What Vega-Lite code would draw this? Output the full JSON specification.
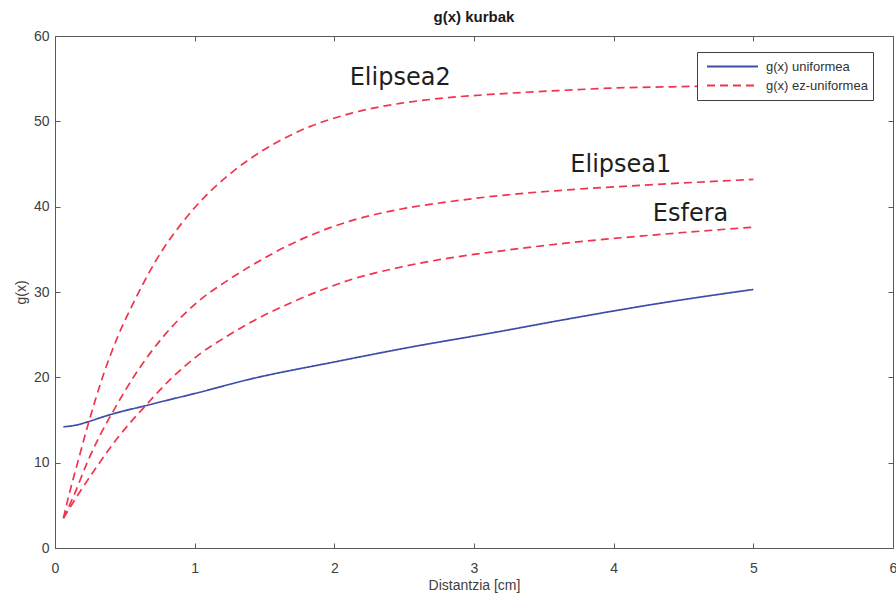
{
  "$schema": "https://vega.github.io/schema/vega-lite/v6.json",
  "width": 838,
  "height": 512,
  "autosize": {"type": "none"},
  "padding": {"left": 55, "top": 36, "right": 3, "bottom": 51},
  "background": "white",
  "config": {"view": {"stroke": null}, "font": "Liberation Sans"},
  "title": {"text": "g(x) kurbak", "fontSize": 15, "fontWeight": "bold", "font": "Liberation Sans", "color": "#1a1a1a", "offset": 4, "anchor": "middle"},
  "datasets": {
    "curves": [
      {"serie": "uni", "mota": "g(x) uniformea", "x": 0.06, "y": 14.2},
      {"serie": "uni", "mota": "g(x) uniformea", "x": 0.15, "y": 14.4},
      {"serie": "uni", "mota": "g(x) uniformea", "x": 0.238, "y": 14.8},
      {"serie": "uni", "mota": "g(x) uniformea", "x": 0.35, "y": 15.4},
      {"serie": "uni", "mota": "g(x) uniformea", "x": 0.477, "y": 16.0},
      {"serie": "uni", "mota": "g(x) uniformea", "x": 0.63, "y": 16.6},
      {"serie": "uni", "mota": "g(x) uniformea", "x": 0.775, "y": 17.2},
      {"serie": "uni", "mota": "g(x) uniformea", "x": 1.0, "y": 18.1},
      {"serie": "uni", "mota": "g(x) uniformea", "x": 1.4, "y": 19.8},
      {"serie": "uni", "mota": "g(x) uniformea", "x": 2.0, "y": 21.8},
      {"serie": "uni", "mota": "g(x) uniformea", "x": 2.5, "y": 23.4},
      {"serie": "uni", "mota": "g(x) uniformea", "x": 3.16, "y": 25.3},
      {"serie": "uni", "mota": "g(x) uniformea", "x": 3.66, "y": 26.8},
      {"serie": "uni", "mota": "g(x) uniformea", "x": 4.3, "y": 28.6},
      {"serie": "uni", "mota": "g(x) uniformea", "x": 5.0, "y": 30.3},

      {"serie": "Elipsea2", "mota": "g(x) ez-uniformea", "x": 0.06, "y": 3.5},
      {"serie": "Elipsea2", "mota": "g(x) ez-uniformea", "x": 0.1, "y": 6.2},
      {"serie": "Elipsea2", "mota": "g(x) ez-uniformea", "x": 0.167, "y": 10.3},
      {"serie": "Elipsea2", "mota": "g(x) ez-uniformea", "x": 0.227, "y": 13.9},
      {"serie": "Elipsea2", "mota": "g(x) ez-uniformea", "x": 0.286, "y": 17.2},
      {"serie": "Elipsea2", "mota": "g(x) ez-uniformea", "x": 0.334, "y": 19.7},
      {"serie": "Elipsea2", "mota": "g(x) ez-uniformea", "x": 0.45, "y": 24.8},
      {"serie": "Elipsea2", "mota": "g(x) ez-uniformea", "x": 0.57, "y": 29.0},
      {"serie": "Elipsea2", "mota": "g(x) ez-uniformea", "x": 0.716, "y": 33.5},
      {"serie": "Elipsea2", "mota": "g(x) ez-uniformea", "x": 0.954, "y": 39.0},
      {"serie": "Elipsea2", "mota": "g(x) ez-uniformea", "x": 1.265, "y": 44.0},
      {"serie": "Elipsea2", "mota": "g(x) ez-uniformea", "x": 1.396, "y": 45.6},
      {"serie": "Elipsea2", "mota": "g(x) ez-uniformea", "x": 1.754, "y": 48.9},
      {"serie": "Elipsea2", "mota": "g(x) ez-uniformea", "x": 2.11, "y": 50.9},
      {"serie": "Elipsea2", "mota": "g(x) ez-uniformea", "x": 2.47, "y": 52.1},
      {"serie": "Elipsea2", "mota": "g(x) ez-uniformea", "x": 2.83, "y": 52.8},
      {"serie": "Elipsea2", "mota": "g(x) ez-uniformea", "x": 3.16, "y": 53.2},
      {"serie": "Elipsea2", "mota": "g(x) ez-uniformea", "x": 3.6, "y": 53.6},
      {"serie": "Elipsea2", "mota": "g(x) ez-uniformea", "x": 4.0, "y": 53.9},
      {"serie": "Elipsea2", "mota": "g(x) ez-uniformea", "x": 4.57, "y": 54.1},
      {"serie": "Elipsea2", "mota": "g(x) ez-uniformea", "x": 5.0, "y": 54.3},

      {"serie": "Elipsea1", "mota": "g(x) ez-uniformea", "x": 0.06, "y": 3.5},
      {"serie": "Elipsea1", "mota": "g(x) ez-uniformea", "x": 0.131, "y": 6.0},
      {"serie": "Elipsea1", "mota": "g(x) ez-uniformea", "x": 0.238, "y": 10.3},
      {"serie": "Elipsea1", "mota": "g(x) ez-uniformea", "x": 0.31, "y": 12.8},
      {"serie": "Elipsea1", "mota": "g(x) ez-uniformea", "x": 0.44, "y": 16.7},
      {"serie": "Elipsea1", "mota": "g(x) ez-uniformea", "x": 0.573, "y": 20.3},
      {"serie": "Elipsea1", "mota": "g(x) ez-uniformea", "x": 0.787, "y": 25.0},
      {"serie": "Elipsea1", "mota": "g(x) ez-uniformea", "x": 1.026, "y": 28.9},
      {"serie": "Elipsea1", "mota": "g(x) ez-uniformea", "x": 1.24, "y": 31.4},
      {"serie": "Elipsea1", "mota": "g(x) ez-uniformea", "x": 1.396, "y": 33.0},
      {"serie": "Elipsea1", "mota": "g(x) ez-uniformea", "x": 1.754, "y": 36.1},
      {"serie": "Elipsea1", "mota": "g(x) ez-uniformea", "x": 2.11, "y": 38.3},
      {"serie": "Elipsea1", "mota": "g(x) ez-uniformea", "x": 2.47, "y": 39.7},
      {"serie": "Elipsea1", "mota": "g(x) ez-uniformea", "x": 2.83, "y": 40.6},
      {"serie": "Elipsea1", "mota": "g(x) ez-uniformea", "x": 3.185, "y": 41.3},
      {"serie": "Elipsea1", "mota": "g(x) ez-uniformea", "x": 3.7, "y": 42.0},
      {"serie": "Elipsea1", "mota": "g(x) ez-uniformea", "x": 4.3, "y": 42.6},
      {"serie": "Elipsea1", "mota": "g(x) ez-uniformea", "x": 5.0, "y": 43.2},

      {"serie": "Esfera", "mota": "g(x) ez-uniformea", "x": 0.06, "y": 3.5},
      {"serie": "Esfera", "mota": "g(x) ez-uniformea", "x": 0.167, "y": 6.3},
      {"serie": "Esfera", "mota": "g(x) ez-uniformea", "x": 0.298, "y": 9.5},
      {"serie": "Esfera", "mota": "g(x) ez-uniformea", "x": 0.453, "y": 13.0},
      {"serie": "Esfera", "mota": "g(x) ez-uniformea", "x": 0.644, "y": 16.6},
      {"serie": "Esfera", "mota": "g(x) ez-uniformea", "x": 0.835, "y": 19.9},
      {"serie": "Esfera", "mota": "g(x) ez-uniformea", "x": 1.026, "y": 22.6},
      {"serie": "Esfera", "mota": "g(x) ez-uniformea", "x": 1.24, "y": 24.9},
      {"serie": "Esfera", "mota": "g(x) ez-uniformea", "x": 1.396, "y": 26.4},
      {"serie": "Esfera", "mota": "g(x) ez-uniformea", "x": 1.754, "y": 29.2},
      {"serie": "Esfera", "mota": "g(x) ez-uniformea", "x": 2.11, "y": 31.4},
      {"serie": "Esfera", "mota": "g(x) ez-uniformea", "x": 2.47, "y": 32.9},
      {"serie": "Esfera", "mota": "g(x) ez-uniformea", "x": 2.83, "y": 34.0},
      {"serie": "Esfera", "mota": "g(x) ez-uniformea", "x": 3.185, "y": 34.8},
      {"serie": "Esfera", "mota": "g(x) ez-uniformea", "x": 3.7, "y": 35.8},
      {"serie": "Esfera", "mota": "g(x) ez-uniformea", "x": 4.3, "y": 36.7},
      {"serie": "Esfera", "mota": "g(x) ez-uniformea", "x": 5.0, "y": 37.6}
    ],
    "labels": [
      {"t": "Elipsea2", "x": 2.11, "y": 55.1},
      {"t": "Elipsea1", "x": 3.69, "y": 44.9},
      {"t": "Esfera", "x": 4.28, "y": 39.1}
    ]
  },
  "layer": [
    {
      "data": {"name": "curves"},
      "mark": {"type": "line", "strokeWidth": 1.7, "clip": true, "interpolate": "monotone"},
      "encoding": {
        "x": {
          "field": "x", "type": "quantitative",
          "scale": {"domain": [0, 6], "nice": false, "zero": false},
          "axis": {
            "orient": "bottom", "values": [0, 1, 2, 3, 4, 5, 6], "format": "d",
            "title": "Distantzia [cm]", "grid": false, "tickSize": -5,
            "tickColor": "#5a5a5a", "domainColor": "#5a5a5a", "labelPadding": 18,
            "labelFontSize": 14, "labelColor": "#404040", "labelFlush": false,
            "labelFont": "Liberation Sans", "titleFont": "Liberation Sans",
            "titleFontSize": 14, "titleColor": "#404040", "titleFontWeight": "normal", "titlePadding": 3
          }
        },
        "y": {
          "field": "y", "type": "quantitative",
          "scale": {"domain": [0, 60], "nice": false},
          "axis": {
            "orient": "left", "values": [0, 10, 20, 30, 40, 50, 60],
            "title": "g(x)", "grid": false, "tickSize": -5,
            "tickColor": "#5a5a5a", "domainColor": "#5a5a5a", "labelPadding": 11,
            "labelFontSize": 14, "labelColor": "#404040", "labelFlush": false,
            "labelFont": "Liberation Sans", "titleFont": "Liberation Sans",
            "titleFontSize": 14, "titleColor": "#404040", "titleFontWeight": "normal", "titlePadding": 5
          }
        },
        "detail": {"field": "serie"},
        "color": {
          "field": "mota", "type": "nominal",
          "scale": {"domain": ["g(x) uniformea", "g(x) ez-uniformea"], "range": ["#3c4ea6", "#f2334d"]},
          "legend": {
            "title": null, "orient": "none", "legendX": 642, "legendY": 16, "direction": "vertical",
            "fillColor": "white", "strokeColor": "#404040", "padding": 5,
            "symbolType": "stroke", "symbolSize": 2600, "symbolStrokeWidth": 2,
            "clipHeight": 19, "rowPadding": 0, "labelFontSize": 13, "labelColor": "#333333",
            "labelFont": "Liberation Sans", "labelOffset": 7, "symbolOffset": 4
          }
        },
        "strokeDash": {
          "field": "mota", "type": "nominal",
          "scale": {"domain": ["g(x) uniformea", "g(x) ez-uniformea"], "range": [[1, 0], [8, 5]]},
          "legend": {
            "title": null, "orient": "none", "legendX": 642, "legendY": 16, "direction": "vertical",
            "fillColor": "white", "strokeColor": "#404040", "padding": 5,
            "symbolType": "stroke", "symbolSize": 2600, "symbolStrokeWidth": 2,
            "clipHeight": 19, "rowPadding": 0, "labelFontSize": 13, "labelColor": "#333333",
            "labelFont": "Liberation Sans", "labelOffset": 7, "symbolOffset": 4
          }
        }
      }
    },
    {
      "data": {"name": "labels"},
      "mark": {"type": "text", "font": "DejaVu Sans", "fontSize": 24, "align": "left", "baseline": "middle", "color": "#1e1e1e"},
      "encoding": {
        "x": {"field": "x", "type": "quantitative", "axis": null},
        "y": {"field": "y", "type": "quantitative", "axis": null},
        "text": {"field": "t"}
      }
    },
    {
      "data": {"name": "curves"},
      "mark": {"type": "point", "opacity": 0},
      "encoding": {
        "x": {
          "field": "x", "type": "quantitative",
          "axis": {"orient": "top", "values": [0, 1, 2, 3, 4, 5, 6], "labels": false, "title": null, "grid": false, "tickSize": -5, "tickColor": "#5a5a5a", "domainColor": "#5a5a5a"}
        },
        "y": {
          "field": "y", "type": "quantitative",
          "axis": {"orient": "right", "values": [0, 10, 20, 30, 40, 50, 60], "labels": false, "title": null, "grid": false, "tickSize": -5, "tickColor": "#5a5a5a", "domainColor": "#5a5a5a"}
        }
      }
    }
  ],
  "resolve": {"axis": {"x": "independent", "y": "independent"}}
}
